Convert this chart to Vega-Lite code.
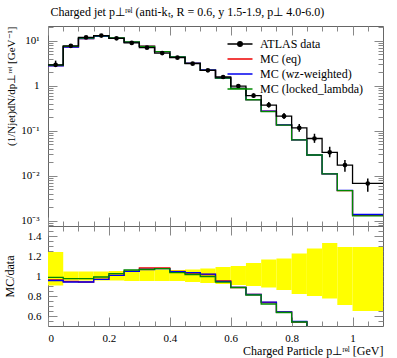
{
  "$schema": "https://vega.github.io/schema/vega-lite/v6.json",
  "background": "white",
  "padding": {"left": 2, "top": 6, "right": 13, "bottom": 1},
  "spacing": 0,
  "bounds": "flush",
  "title": {"text": "Charged jet p⊥ʳᵉˡ (anti-kₜ, R = 0.6, y 1.5-1.9, p⊥ 4.0-6.0)", "anchor": "start", "dx": 48, "font": "Liberation Serif", "fontSize": 12, "fontWeight": "normal", "color": "black", "offset": 6},
  "datasets": {
    "steps": [
      {"x": 0, "d": 2.9, "eq": 2.78, "wz": 2.77, "lk": 2.86, "req": 0.96, "rwz": 0.955, "rlk": 0.986},
      {"x": 0.05, "d": 7.7, "eq": 7.28, "wz": 7.24, "lk": 7.49, "req": 0.945, "rwz": 0.94, "rlk": 0.973},
      {"x": 0.1, "d": 11.8, "eq": 11.09, "wz": 11.09, "lk": 11.48, "req": 0.94, "rwz": 0.94, "rlk": 0.973},
      {"x": 0.15, "d": 13.0, "eq": 12.56, "wz": 12.56, "lk": 12.87, "req": 0.966, "rwz": 0.966, "rlk": 0.99},
      {"x": 0.2, "d": 11.3, "eq": 11.37, "wz": 11.37, "lk": 11.56, "req": 1.006, "rwz": 1.006, "rlk": 1.023},
      {"x": 0.25, "d": 8.9, "eq": 9.31, "wz": 9.31, "lk": 9.43, "req": 1.046, "rwz": 1.046, "rlk": 1.06},
      {"x": 0.3, "d": 7.0, "eq": 7.56, "wz": 7.46, "lk": 7.47, "req": 1.08, "rwz": 1.065, "rlk": 1.067},
      {"x": 0.35, "d": 5.3, "eq": 5.72, "wz": 5.69, "lk": 5.69, "req": 1.08, "rwz": 1.073, "rlk": 1.073},
      {"x": 0.4, "d": 4.2, "eq": 4.39, "wz": 4.38, "lk": 4.34, "req": 1.045, "rwz": 1.043, "rlk": 1.033},
      {"x": 0.45, "d": 3.08, "eq": 3.17, "wz": 3.18, "lk": 3.13, "req": 1.03, "rwz": 1.033, "rlk": 1.015},
      {"x": 0.5, "d": 2.19, "eq": 2.22, "wz": 2.23, "lk": 2.18, "req": 1.015, "rwz": 1.018, "rlk": 0.995},
      {"x": 0.55, "d": 1.56, "eq": 1.48, "wz": 1.48, "lk": 1.47, "req": 0.952, "rwz": 0.947, "rlk": 0.938},
      {"x": 0.6, "d": 0.98, "eq": 0.867, "wz": 0.869, "lk": 0.867, "req": 0.885, "rwz": 0.887, "rlk": 0.885},
      {"x": 0.65, "d": 0.6, "eq": 0.489, "wz": 0.489, "lk": 0.486, "req": 0.815, "rwz": 0.815, "rlk": 0.81},
      {"x": 0.7, "d": 0.37, "eq": 0.272, "wz": 0.273, "lk": 0.266, "req": 0.735, "rwz": 0.738, "rlk": 0.72},
      {"x": 0.75, "d": 0.21, "eq": 0.134, "wz": 0.134, "lk": 0.133, "req": 0.64, "rwz": 0.64, "rlk": 0.635},
      {"x": 0.8, "d": 0.115, "eq": 0.0621, "wz": 0.0627, "lk": 0.0621, "req": 0.54, "rwz": 0.545, "rlk": 0.54},
      {"x": 0.85, "d": 0.067, "eq": 0.0288, "wz": 0.0288, "lk": 0.0288, "req": 0.43, "rwz": 0.43, "rlk": 0.43},
      {"x": 0.9, "d": 0.033, "eq": 0.0109, "wz": 0.0109, "lk": 0.0109, "req": 0.33, "rwz": 0.33, "rlk": 0.33},
      {"x": 0.95, "d": 0.0172, "eq": 0.00464, "wz": 0.00473, "lk": 0.00464, "req": 0.27, "rwz": 0.275, "rlk": 0.27},
      {"x": 1.0, "d": 0.0067, "eq": 0.00131, "wz": 0.00137, "lk": 0.00127, "req": 0.195, "rwz": 0.205, "rlk": 0.19},
      {"x": 1.1, "d": 0.0067, "eq": 0.00131, "wz": 0.00137, "lk": 0.00127, "req": 0.195, "rwz": 0.205, "rlk": 0.19}
    ],
    "points": [
      {"xlo": 0, "xhi": 0.05, "xc": 0.025, "d": 2.9, "dlo": 2.62, "dhi": 3.6, "blo": 0.905, "bhi": 1.24},
      {"xlo": 0.05, "xhi": 0.1, "xc": 0.075, "d": 7.7, "dlo": 7.35, "dhi": 8.05, "blo": 0.955, "bhi": 1.045},
      {"xlo": 0.1, "xhi": 0.15, "xc": 0.125, "d": 11.8, "dlo": 11.27, "dhi": 12.33, "blo": 0.955, "bhi": 1.045},
      {"xlo": 0.15, "xhi": 0.2, "xc": 0.175, "d": 13.0, "dlo": 12.42, "dhi": 13.59, "blo": 0.955, "bhi": 1.045},
      {"xlo": 0.2, "xhi": 0.25, "xc": 0.225, "d": 11.3, "dlo": 10.79, "dhi": 11.87, "blo": 0.955, "bhi": 1.05},
      {"xlo": 0.25, "xhi": 0.3, "xc": 0.275, "d": 8.9, "dlo": 8.46, "dhi": 9.39, "blo": 0.95, "bhi": 1.055},
      {"xlo": 0.3, "xhi": 0.35, "xc": 0.325, "d": 7.0, "dlo": 6.65, "dhi": 7.42, "blo": 0.95, "bhi": 1.06},
      {"xlo": 0.35, "xhi": 0.4, "xc": 0.375, "d": 5.3, "dlo": 5.04, "dhi": 5.64, "blo": 0.95, "bhi": 1.065},
      {"xlo": 0.4, "xhi": 0.45, "xc": 0.425, "d": 4.2, "dlo": 3.99, "dhi": 4.45, "blo": 0.95, "bhi": 1.06},
      {"xlo": 0.45, "xhi": 0.5, "xc": 0.475, "d": 3.08, "dlo": 2.9, "dhi": 3.28, "blo": 0.94, "bhi": 1.065},
      {"xlo": 0.5, "xhi": 0.55, "xc": 0.525, "d": 2.19, "dlo": 2.04, "dhi": 2.35, "blo": 0.93, "bhi": 1.075},
      {"xlo": 0.55, "xhi": 0.6, "xc": 0.575, "d": 1.56, "dlo": 1.435, "dhi": 1.7, "blo": 0.92, "bhi": 1.09},
      {"xlo": 0.6, "xhi": 0.65, "xc": 0.625, "d": 0.98, "dlo": 0.892, "dhi": 1.078, "blo": 0.91, "bhi": 1.1},
      {"xlo": 0.65, "xhi": 0.7, "xc": 0.675, "d": 0.6, "dlo": 0.54, "dhi": 0.678, "blo": 0.9, "bhi": 1.13},
      {"xlo": 0.7, "xhi": 0.75, "xc": 0.725, "d": 0.37, "dlo": 0.327, "dhi": 0.431, "blo": 0.885, "bhi": 1.165},
      {"xlo": 0.75, "xhi": 0.8, "xc": 0.775, "d": 0.21, "dlo": 0.181, "dhi": 0.247, "blo": 0.86, "bhi": 1.175},
      {"xlo": 0.8, "xhi": 0.85, "xc": 0.825, "d": 0.115, "dlo": 0.0943, "dhi": 0.1409, "blo": 0.82, "bhi": 1.225},
      {"xlo": 0.85, "xhi": 0.9, "xc": 0.875, "d": 0.067, "dlo": 0.0536, "dhi": 0.0854, "blo": 0.8, "bhi": 1.275},
      {"xlo": 0.9, "xhi": 0.95, "xc": 0.925, "d": 0.033, "dlo": 0.0256, "dhi": 0.0439, "blo": 0.775, "bhi": 1.33},
      {"xlo": 0.95, "xhi": 1.0, "xc": 0.975, "d": 0.0172, "dlo": 0.0122, "dhi": 0.0222, "blo": 0.71, "bhi": 1.29},
      {"xlo": 1.0, "xhi": 1.1, "xc": 1.05, "d": 0.0067, "dlo": 0.00436, "dhi": 0.00864, "blo": 0.65, "bhi": 1.29}
    ]
  },
  "config": {
    "font": "Liberation Serif",
    "view": {"stroke": "#666", "strokeWidth": 1},
    "axis": {"domain": false, "grid": false, "tickColor": "#888", "tickWidth": 1, "labelFont": "Liberation Serif", "labelFontSize": 11, "labelColor": "black", "titleFont": "Liberation Serif", "titleFontSize": 12, "titleFontWeight": "normal", "titleColor": "black"},
    "concat": {"spacing": 0}
  },
  "vconcat": [
    {
      "width": 335,
      "height": 200,
      "resolve": {"axis": {"x": "independent", "y": "independent"}},
      "layer": [
        {
          "data": {"name": "steps"},
          "mark": {"type": "line", "interpolate": "step-after", "strokeWidth": 1.3},
          "encoding": {
            "x": {"field": "x", "type": "quantitative", "scale": {"domain": [0, 1.1], "nice": false, "zero": false},
                  "axis": {"orient": "bottom", "values": [0, 0.2, 0.4, 0.6, 0.8, 1.0], "tickSize": -9, "labels": false, "title": null}},
            "y": {"field": "eq", "type": "quantitative", "scale": {"type": "log", "domain": [0.00076, 21.2], "nice": false},
                  "axis": {"orient": "left", "values": [0.001, 0.01, 0.1, 1, 10], "tickSize": -9, "labelPadding": 18,
                           "labelExpr": "datum.value >= 9 ? '10¹' : datum.value >= 0.9 ? '1' : datum.value >= 0.09 ? '10⁻¹' : datum.value >= 0.009 ? '10⁻²' : '10⁻³'",
                           "title": "(1/Njet)dN/dp⊥ʳᵉˡ [GeV⁻¹]", "titleAnchor": "end", "titlePadding": 4, "minExtent": 28, "maxExtent": 28, "titleFontSize": 11}},
            "color": {"datum": "eq", "type": "nominal",
                      "scale": {"domain": ["data", "eq", "wz", "lk"], "range": ["black", "#ee0000", "#0000ee", "#008800"]},
                      "legend": {"orient": "none", "legendX": 186, "legendY": 12, "title": null, "padding": 0,
                                 "symbolSize": 100, "symbolStrokeWidth": 1.5, "labelOffset": 14,
                                 "labelFont": "Liberation Serif", "labelFontSize": 12, "labelColor": "black", "rowPadding": 3,
                                 "labelExpr": "datum.label === 'data' ? 'ATLAS data' : datum.label === 'eq' ? 'MC (eq)' : datum.label === 'wz' ? 'MC (wz-weighted)' : 'MC (locked_lambda)'",
                                 "encode": {"symbols": {"update": {
                                   "shape": {"signal": "datum.value === 'data' ? 'M-2.5,0H2.5M0.45,0A0.45,0.45 0 1,1 -0.45,0A0.45,0.45 0 1,1 0.45,0' : 'M-2.5,0H2.5'"},
                                   "fill": {"signal": "datum.value === 'data' ? 'black' : 'transparent'"}}}}}}
          }
        },
        {
          "data": {"name": "steps"},
          "mark": {"type": "line", "interpolate": "step-after", "strokeWidth": 1.3},
          "encoding": {
            "x": {"field": "x", "type": "quantitative",
                  "axis": {"orient": "bottom", "values": [0.05, 0.1, 0.15, 0.25, 0.3, 0.35, 0.45, 0.5, 0.55, 0.65, 0.7, 0.75, 0.85, 0.9, 0.95, 1.05], "tickSize": -5, "labels": false, "title": null}},
            "y": {"field": "wz", "type": "quantitative",
                  "axis": {"orient": "left", "values": [0.0008, 0.0009, 0.002, 0.003, 0.004, 0.005, 0.006, 0.007, 0.008, 0.009, 0.02, 0.03, 0.04, 0.05, 0.06, 0.07, 0.08, 0.09, 0.2, 0.3, 0.4, 0.5, 0.6, 0.7, 0.8, 0.9, 2, 3, 4, 5, 6, 7, 8, 9, 20], "tickSize": -5, "labels": false, "title": null}},
            "color": {"datum": "wz", "type": "nominal", "legend": null}
          }
        },
        {
          "data": {"name": "steps"},
          "mark": {"type": "line", "interpolate": "step-after", "strokeWidth": 1.3},
          "encoding": {
            "x": {"field": "x", "type": "quantitative",
                  "axis": {"orient": "top", "values": [0, 0.2, 0.4, 0.6, 0.8, 1.0], "tickSize": -9, "labels": false, "title": null}},
            "y": {"field": "lk", "type": "quantitative",
                  "axis": {"orient": "right", "values": [0.001, 0.01, 0.1, 1, 10], "tickSize": -9, "labels": false, "title": null}},
            "color": {"datum": "lk", "type": "nominal", "legend": null}
          }
        },
        {
          "data": {"name": "steps"},
          "mark": {"type": "line", "interpolate": "step-after", "strokeWidth": 1.3},
          "encoding": {
            "x": {"field": "x", "type": "quantitative",
                  "axis": {"orient": "top", "values": [0.05, 0.1, 0.15, 0.25, 0.3, 0.35, 0.45, 0.5, 0.55, 0.65, 0.7, 0.75, 0.85, 0.9, 0.95, 1.05], "tickSize": -5, "labels": false, "title": null}},
            "y": {"field": "d", "type": "quantitative",
                  "axis": {"orient": "right", "values": [0.0008, 0.0009, 0.002, 0.003, 0.004, 0.005, 0.006, 0.007, 0.008, 0.009, 0.02, 0.03, 0.04, 0.05, 0.06, 0.07, 0.08, 0.09, 0.2, 0.3, 0.4, 0.5, 0.6, 0.7, 0.8, 0.9, 2, 3, 4, 5, 6, 7, 8, 9, 20], "tickSize": -5, "labels": false, "title": null}},
            "color": {"datum": "data", "type": "nominal", "legend": null}
          }
        },
        {
          "data": {"name": "points"},
          "mark": {"type": "rule", "color": "black", "strokeWidth": 1.5},
          "encoding": {
            "x": {"field": "xc", "type": "quantitative", "axis": null},
            "y": {"field": "dlo", "type": "quantitative", "axis": null},
            "y2": {"field": "dhi"}
          }
        },
        {
          "data": {"name": "points"},
          "mark": {"type": "point", "filled": true, "color": "black", "size": 22, "opacity": 1},
          "encoding": {
            "x": {"field": "xc", "type": "quantitative", "axis": null},
            "y": {"field": "d", "type": "quantitative", "axis": null}
          }
        }
      ]
    },
    {
      "width": 335,
      "height": 100,
      "resolve": {"axis": {"x": "independent", "y": "independent"}},
      "layer": [
        {
          "data": {"name": "points"},
          "mark": {"type": "rect", "color": "#ffff00"},
          "encoding": {
            "x": {"field": "xlo", "type": "quantitative", "scale": {"domain": [0, 1.1], "nice": false, "zero": false},
                  "axis": {"orient": "bottom", "values": [0, 0.2, 0.4, 0.6, 0.8, 1.0], "tickSize": -9, "labelPadding": 15, "labelExpr": "'' + datum.value",
                           "title": "Charged Particle p⊥ʳᵉˡ [GeV]", "titleAnchor": "end", "titlePadding": 2}},
            "x2": {"field": "xhi"},
            "y": {"field": "blo", "type": "quantitative", "scale": {"domain": [0.5, 1.5], "nice": false, "zero": false},
                  "axis": {"orient": "left", "values": [0.6, 0.8, 1, 1.2, 1.4], "tickSize": -9, "labelPadding": 16, "labelExpr": "'' + datum.value",
                           "title": "MC/data", "titlePadding": 4, "minExtent": 28, "maxExtent": 28}},
            "y2": {"field": "bhi"}
          }
        },
        {
          "mark": {"type": "rule", "color": "#888", "strokeWidth": 1},
          "encoding": {
            "x": {"datum": 0, "type": "quantitative",
                  "axis": {"orient": "bottom", "values": [0.05, 0.1, 0.15, 0.25, 0.3, 0.35, 0.45, 0.5, 0.55, 0.65, 0.7, 0.75, 0.85, 0.9, 0.95, 1.05], "tickSize": -5, "labels": false, "title": null}},
            "x2": {"datum": 1.1},
            "y": {"datum": 1, "type": "quantitative",
                  "axis": {"orient": "left", "values": [0.55, 0.65, 0.7, 0.75, 0.85, 0.9, 0.95, 1.05, 1.1, 1.15, 1.25, 1.3, 1.35, 1.45], "tickSize": -5, "labels": false, "title": null}}
          }
        },
        {
          "data": {"name": "steps"},
          "mark": {"type": "line", "interpolate": "step-after", "strokeWidth": 1.3, "color": "#ee0000", "clip": true},
          "encoding": {
            "x": {"field": "x", "type": "quantitative",
                  "axis": {"orient": "top", "values": [0, 0.2, 0.4, 0.6, 0.8, 1.0], "tickSize": -9, "labels": false, "title": null}},
            "y": {"field": "req", "type": "quantitative",
                  "axis": {"orient": "right", "values": [0.6, 0.8, 1, 1.2, 1.4], "tickSize": -9, "labels": false, "title": null}}
          }
        },
        {
          "data": {"name": "steps"},
          "mark": {"type": "line", "interpolate": "step-after", "strokeWidth": 1.3, "color": "#0000ee", "clip": true},
          "encoding": {
            "x": {"field": "x", "type": "quantitative",
                  "axis": {"orient": "top", "values": [0.05, 0.1, 0.15, 0.25, 0.3, 0.35, 0.45, 0.5, 0.55, 0.65, 0.7, 0.75, 0.85, 0.9, 0.95, 1.05], "tickSize": -5, "labels": false, "title": null}},
            "y": {"field": "rwz", "type": "quantitative",
                  "axis": {"orient": "right", "values": [0.55, 0.65, 0.7, 0.75, 0.85, 0.9, 0.95, 1.05, 1.1, 1.15, 1.25, 1.3, 1.35, 1.45], "tickSize": -5, "labels": false, "title": null}}
          }
        },
        {
          "data": {"name": "steps"},
          "mark": {"type": "line", "interpolate": "step-after", "strokeWidth": 1.3, "color": "#008800", "clip": true},
          "encoding": {
            "x": {"field": "x", "type": "quantitative", "axis": null},
            "y": {"field": "rlk", "type": "quantitative", "axis": null}
          }
        }
      ]
    }
  ]
}
